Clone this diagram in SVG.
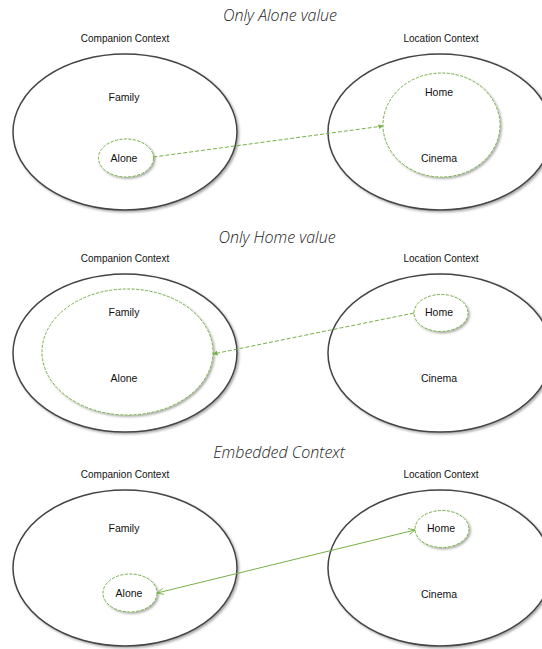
<svg xmlns="http://www.w3.org/2000/svg" width="542" height="649" viewBox="0 0 542 649">
  <style>
    .title { font-family: "Open Sans", "Liberation Sans", sans-serif; font-style: italic; font-weight: 300; font-size: 16px; fill: #222; text-anchor: middle; }
    .ctx { font-family: "Liberation Sans", "Open Sans", sans-serif; font-size: 10px; fill: #111; text-anchor: middle; }
    .val { font-family: "Liberation Sans", "Open Sans", sans-serif; font-size: 10.5px; fill: #111; text-anchor: middle; }
    .outer { fill: #fff; stroke: #444; stroke-width: 1.5; filter: url(#shadow); }
    .inner { fill: #fff; stroke: #77b046; stroke-width: 1; stroke-dasharray: 3 1.5; filter: url(#shadow); }
    .dash { fill: none; stroke: #77b046; stroke-width: 1; stroke-dasharray: 4 2; }
    .solid { fill: none; stroke: #77b046; stroke-width: 1; }
  </style>
  <defs>
    <filter id="shadow" x="-10%" y="-10%" width="125%" height="125%">
      <feDropShadow dx="1.5" dy="1.5" stdDeviation="1" flood-color="#000" flood-opacity="0.35"/>
    </filter>
    <marker id="tri" viewBox="0 0 6 6" refX="5.5" refY="3" markerWidth="5" markerHeight="5" orient="auto">
      <path d="M0,0 L6,3 L0,6 z" fill="#77b046"/>
    </marker>
    <marker id="open" viewBox="0 0 8 8" refX="7.5" refY="4" markerWidth="7" markerHeight="7" orient="auto-start-reverse">
      <path d="M0,0.5 L7.5,4 L0,7.5" fill="none" stroke="#77b046" stroke-width="1"/>
    </marker>
  </defs>

  <!-- Section 1: Only Alone value -->
  <text class="title" x="280" y="21">Only Alone value</text>
  <text class="ctx" x="125" y="42">Companion Context</text>
  <text class="ctx" x="441" y="42">Location Context</text>
  <g id="companion1">
    <ellipse class="outer" cx="125" cy="132" rx="112" ry="78"/>
    <text class="val" x="124" y="101">Family</text>
  </g>
  <g id="alone1">
    <ellipse class="inner" cx="126" cy="158" rx="27.5" ry="19"/>
    <text class="val" x="124" y="162">Alone</text>
  </g>
  <g id="location1">
    <ellipse class="outer" cx="440" cy="132" rx="112" ry="78"/>
  </g>
  <g id="homecinema1">
    <ellipse class="inner" cx="441.5" cy="125" rx="58.5" ry="52"/>
    <text class="val" x="439" y="96">Home</text>
    <text class="val" x="439" y="162">Cinema</text>
  </g>

  <!-- Section 2: Only Home value -->
  <text class="title" x="277" y="243">Only Home value</text>
  <text class="ctx" x="125" y="262">Companion Context</text>
  <text class="ctx" x="441" y="262">Location Context</text>
  <g id="companion2">
    <ellipse class="outer" cx="125" cy="353" rx="112" ry="79"/>
  </g>
  <g id="familyalone2">
    <ellipse class="inner" cx="127.5" cy="352" rx="85.5" ry="63"/>
    <text class="val" x="124" y="316">Family</text>
    <text class="val" x="124" y="382">Alone</text>
  </g>
  <g id="location2">
    <ellipse class="outer" cx="440" cy="353" rx="112" ry="79"/>
    <text class="val" x="439" y="382">Cinema</text>
  </g>
  <g id="home2">
    <ellipse class="inner" cx="441" cy="313" rx="27" ry="18.5"/>
    <text class="val" x="439" y="316">Home</text>
  </g>

  <!-- Section 3: Embedded Context -->
  <text class="title" x="279" y="458">Embedded Context</text>
  <text class="ctx" x="125" y="478">Companion Context</text>
  <text class="ctx" x="441" y="478">Location Context</text>
  <g id="companion3">
    <ellipse class="outer" cx="125" cy="568" rx="112" ry="78"/>
    <text class="val" x="124" y="532">Family</text>
  </g>
  <g id="alone3">
    <ellipse class="inner" cx="130" cy="593" rx="27" ry="19"/>
    <text class="val" x="129" y="597">Alone</text>
  </g>
  <g id="location3">
    <ellipse class="outer" cx="440" cy="568" rx="112" ry="78"/>
    <text class="val" x="439" y="598">Cinema</text>
  </g>
  <g id="home3">
    <ellipse class="inner" cx="442" cy="529" rx="27" ry="18.5"/>
    <text class="val" x="441" y="532">Home</text>
  </g>

  <!-- Connectors -->
  <g id="connectors">
    <line class="dash" x1="153.5" y1="157" x2="383" y2="126" marker-end="url(#tri)"/>
    <line class="dash" x1="414" y1="313" x2="213" y2="354" marker-end="url(#tri)"/>
    <line class="solid" x1="415" y1="530" x2="157" y2="593" marker-start="url(#open)" marker-end="url(#open)"/>
  </g>
</svg>
